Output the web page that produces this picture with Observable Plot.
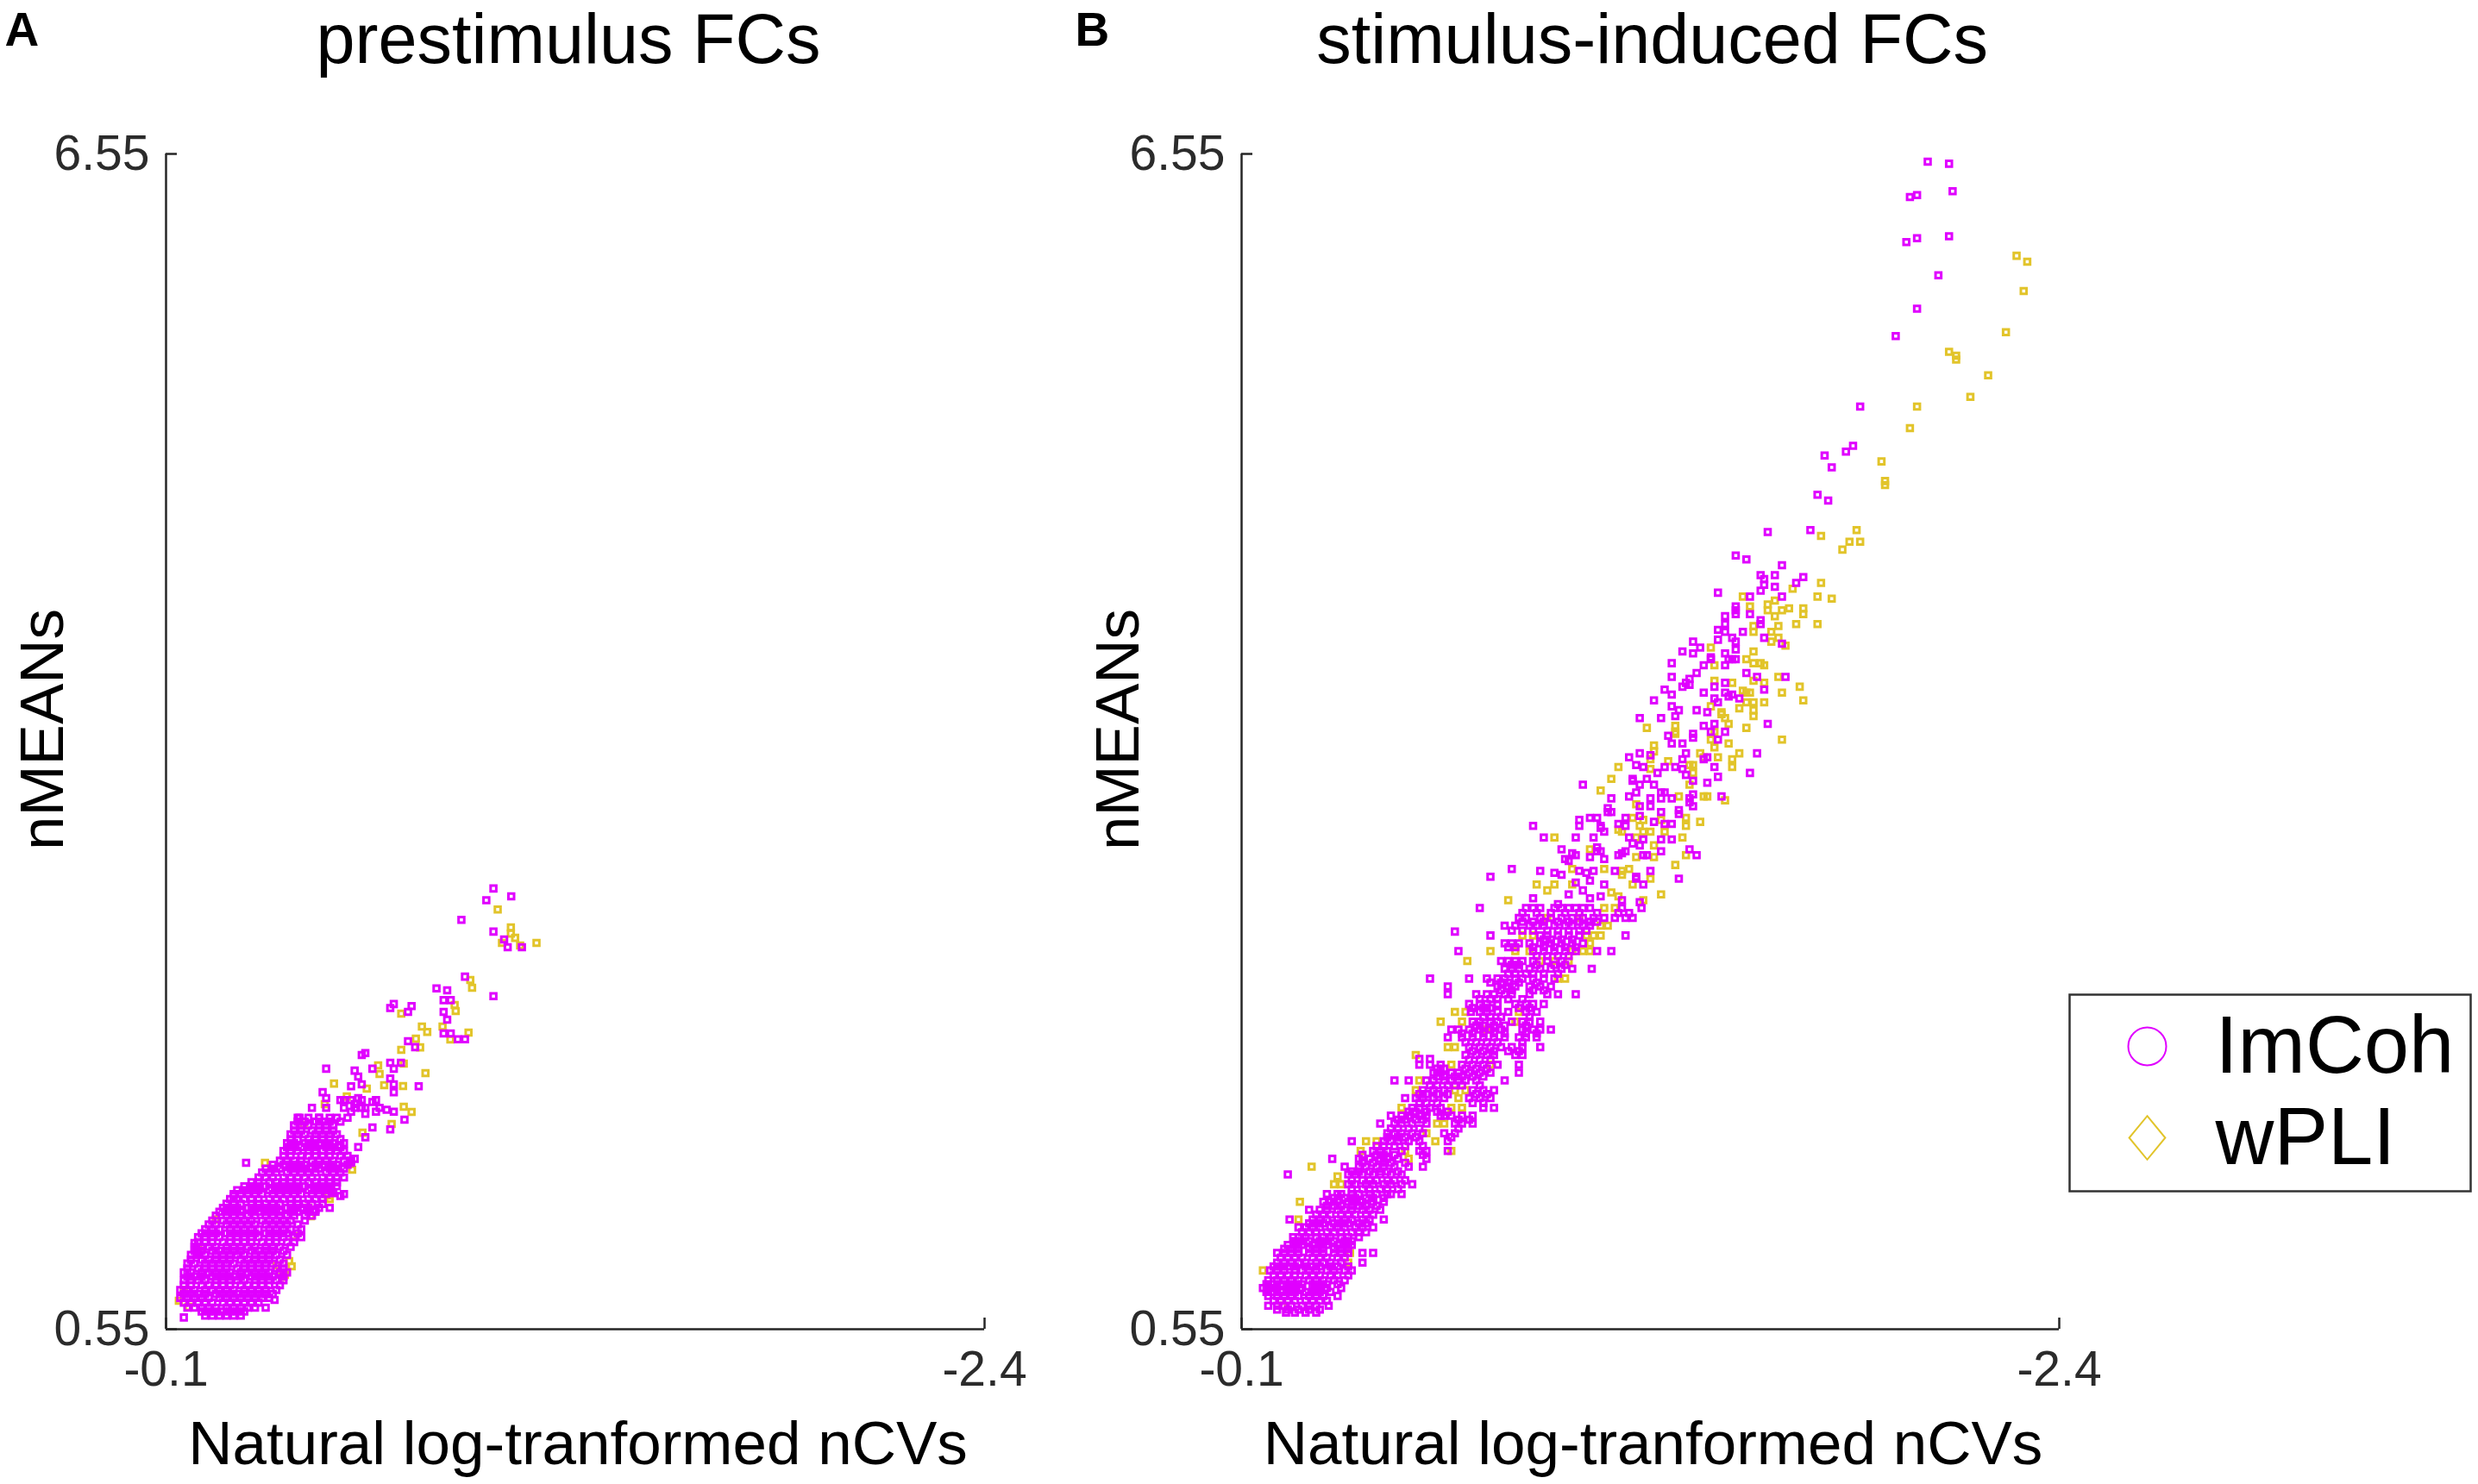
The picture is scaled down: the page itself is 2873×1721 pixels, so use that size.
<!DOCTYPE html>
<html><head><meta charset="utf-8">
<script src="https://cdn.jsdelivr.net/npm/d3@7"></script>
<script src="https://cdn.jsdelivr.net/npm/@observablehq/plot@0.6"></script>
<style>
html,body{margin:0;padding:0;background:#fff;}
#fig{position:relative;width:2873px;height:1721px;overflow:hidden;background:#fff;}
#fig svg{position:absolute;}
</style></head><body><div id="fig"></div>
<script>
// ---------- chart values ----------
const xTicks = [-0.1, -2.4];
const yTicks = [0.55, 6.55];
const seriesNames = ["ImCoh", "wPLI"];
const panelTitles = ["prestimulus FCs", "stimulus-induced FCs"];
const panelLetters = ["A", "B"];
const xLabel = "Natural log-tranformed nCVs";
const yLabel = "nMEANs";

// Panel A, ImCoh: dense core rows [y, x1, x2, ...]
const imcohA_rows = [
[0.62,-0.21,-0.23,-0.25,-0.27,-0.29,-0.31],
[0.64,-0.20,-0.22,-0.24,-0.26,-0.28,-0.30,-0.32],
[0.66,-0.16,-0.18,-0.20,-0.22,-0.24,-0.27,-0.29,-0.31,-0.33,-0.35],
[0.685,-0.15,-0.17,-0.19,-0.21,-0.23,-0.26,-0.28,-0.30,-0.32,-0.34,-0.36],
[0.71,-0.14,-0.16,-0.18,-0.20,-0.22,-0.25,-0.27,-0.29,-0.31,-0.33,-0.35,-0.37,-0.39],
[0.73,-0.15,-0.17,-0.19,-0.21,-0.24,-0.26,-0.28,-0.30,-0.32,-0.34,-0.36,-0.38,-0.40],
[0.75,-0.14,-0.16,-0.18,-0.21,-0.23,-0.25,-0.27,-0.29,-0.32,-0.34,-0.36,-0.38,-0.41],
[0.775,-0.15,-0.17,-0.20,-0.22,-0.24,-0.26,-0.28,-0.31,-0.33,-0.35,-0.37,-0.39,-0.42],
[0.80,-0.15,-0.17,-0.19,-0.21,-0.24,-0.26,-0.28,-0.30,-0.32,-0.35,-0.37,-0.39,-0.41,-0.43],
[0.82,-0.16,-0.18,-0.20,-0.23,-0.25,-0.27,-0.29,-0.31,-0.34,-0.36,-0.38,-0.40,-0.43],
[0.84,-0.15,-0.17,-0.20,-0.22,-0.24,-0.26,-0.28,-0.31,-0.33,-0.35,-0.37,-0.39,-0.42,-0.44],
[0.86,-0.16,-0.19,-0.21,-0.23,-0.25,-0.27,-0.30,-0.32,-0.34,-0.36,-0.38,-0.41,-0.43],
[0.885,-0.16,-0.18,-0.21,-0.23,-0.25,-0.27,-0.29,-0.32,-0.34,-0.36,-0.38,-0.40,-0.43],
[0.905,-0.17,-0.20,-0.22,-0.24,-0.26,-0.28,-0.31,-0.33,-0.35,-0.37,-0.39,-0.42],
[0.93,-0.17,-0.19,-0.21,-0.24,-0.26,-0.28,-0.30,-0.32,-0.35,-0.37,-0.39,-0.41,-0.44],
[0.95,-0.18,-0.20,-0.23,-0.25,-0.27,-0.29,-0.31,-0.34,-0.36,-0.38,-0.40,-0.43],
[0.97,-0.18,-0.20,-0.22,-0.24,-0.27,-0.29,-0.31,-0.33,-0.35,-0.38,-0.40,-0.42,-0.45],
[0.995,-0.19,-0.21,-0.23,-0.26,-0.28,-0.30,-0.32,-0.34,-0.37,-0.39,-0.41,-0.44,-0.46],
[1.02,-0.19,-0.21,-0.23,-0.25,-0.28,-0.30,-0.32,-0.34,-0.36,-0.39,-0.41,-0.43,-0.46,-0.48],
[1.04,-0.20,-0.22,-0.24,-0.27,-0.29,-0.31,-0.33,-0.35,-0.38,-0.40,-0.42,-0.44,-0.47],
[1.06,-0.21,-0.23,-0.25,-0.28,-0.30,-0.32,-0.34,-0.36,-0.39,-0.41,-0.43,-0.45,-0.48],
[1.085,-0.22,-0.24,-0.27,-0.29,-0.31,-0.33,-0.35,-0.38,-0.40,-0.42,-0.44,-0.47],
[1.105,-0.23,-0.26,-0.28,-0.30,-0.32,-0.34,-0.37,-0.39,-0.41,-0.43,-0.45,-0.49],
[1.13,-0.24,-0.27,-0.29,-0.31,-0.33,-0.35,-0.38,-0.40,-0.42,-0.44,-0.46,-0.49,-0.51],
[1.15,-0.25,-0.27,-0.29,-0.31,-0.34,-0.36,-0.38,-0.40,-0.42,-0.45,-0.47,-0.50,-0.52],
[1.17,-0.26,-0.28,-0.30,-0.33,-0.35,-0.37,-0.39,-0.41,-0.44,-0.46,-0.48,-0.50,-0.53],
[1.19,-0.27,-0.29,-0.31,-0.34,-0.36,-0.38,-0.40,-0.42,-0.45,-0.47,-0.49,-0.51,-0.54],
[1.215,-0.28,-0.30,-0.32,-0.34,-0.36,-0.39,-0.41,-0.43,-0.45,-0.47,-0.50,-0.52,-0.54],
[1.24,-0.29,-0.31,-0.33,-0.35,-0.37,-0.40,-0.42,-0.44,-0.46,-0.48,-0.51,-0.53,-0.55],
[1.26,-0.30,-0.32,-0.34,-0.36,-0.39,-0.41,-0.43,-0.45,-0.47,-0.50,-0.52,-0.54,-0.56],
[1.28,-0.32,-0.34,-0.36,-0.38,-0.41,-0.43,-0.45,-0.47,-0.49,-0.52,-0.54,-0.56,-0.58],
[1.30,-0.34,-0.36,-0.39,-0.41,-0.43,-0.45,-0.47,-0.50,-0.52,-0.54,-0.56,-0.58],
[1.325,-0.36,-0.38,-0.40,-0.43,-0.45,-0.47,-0.49,-0.51,-0.54,-0.56,-0.58,-0.60],
[1.35,-0.37,-0.39,-0.41,-0.44,-0.46,-0.48,-0.50,-0.52,-0.55,-0.57,-0.59],
[1.37,-0.38,-0.40,-0.42,-0.45,-0.47,-0.49,-0.51,-0.53,-0.56,-0.58,-0.60],
[1.39,-0.40,-0.43,-0.45,-0.47,-0.49,-0.52,-0.54,-0.56,-0.58,-0.61],
[1.41,-0.42,-0.44,-0.46,-0.48,-0.51,-0.53,-0.55,-0.57,-0.60,-0.62],
[1.435,-0.43,-0.45,-0.48,-0.50,-0.52,-0.54,-0.56,-0.59,-0.61],
[1.46,-0.43,-0.45,-0.47,-0.50,-0.52,-0.54,-0.56,-0.58,-0.60],
[1.48,-0.44,-0.46,-0.48,-0.50,-0.52,-0.55,-0.57,-0.59],
[1.50,-0.44,-0.46,-0.49,-0.51,-0.53,-0.55,-0.57,-0.60],
[1.52,-0.45,-0.47,-0.50,-0.52,-0.54,-0.56,-0.59],
[1.545,-0.45,-0.47,-0.49,-0.52,-0.54,-0.56,-0.58],
[1.565,-0.46,-0.48,-0.51,-0.53,-0.55,-0.57],
[1.59,-0.46,-0.48,-0.50,-0.53,-0.55,-0.57],
[1.61,-0.47,-0.49,-0.52,-0.54,-0.56,-0.59],
[1.63,-0.47,-0.50,-0.53,-0.56,-0.58,-0.61],
[1.68,-0.51,-0.55,-0.60,-0.63,-0.66,-0.70],
[1.72,-0.59,-0.62,-0.65,-0.69]
];
// Panel A, ImCoh: scattered points [x, y]
const imcohA_pts = [
[-1.02,2.80],[-1.00,2.74],[-1.07,2.76],[-0.93,2.64],[-1.02,2.58],[-1.05,2.54],[-1.06,2.50],[-1.10,2.50],
[-0.94,2.35],[-0.86,2.29],[-0.89,2.28],[-1.02,2.25],[-0.88,2.23],[-0.90,2.23],[-0.88,2.17],[-0.89,2.13],[-0.88,2.06],[-0.90,2.06],[-0.92,2.03],[-0.94,2.03],
[-0.74,2.21],[-0.73,2.19],[-0.79,2.20],[-0.78,2.17],[-0.78,2.02],[-0.80,1.99],[-0.65,1.95],[-0.66,1.96],[-0.55,1.88],[-0.73,1.91],[-0.76,1.91],[-0.68,1.88],[-0.63,1.87],[-0.64,1.84],[-0.74,1.88],[-0.73,1.83],[-0.74,1.80],[-0.81,1.79],[-0.62,1.79],[-0.65,1.80],[-0.74,1.76],[-0.54,1.76],[-0.55,1.73],[-0.77,1.62],[-0.72,1.67],[-0.74,1.66],[-0.73,1.57],[-0.68,1.58],[-0.66,1.53],[-0.475,1.63],[-0.46,1.59],[-0.53,1.63],[-0.325,1.40],[-0.29,1.23],[-0.59,1.23],[-0.565,1.25],[-0.64,1.48],[-0.63,1.42],[-0.62,1.40],
[-0.60,1.72],[-0.63,1.70],[-0.65,1.68],[-0.68,1.71],[-0.62,1.66],[-0.64,1.73],[-0.66,1.65],[-0.69,1.66],
[-0.15,0.61],[-0.38,0.66],[-0.405,0.70],[-0.18,0.99],[-0.187,0.94],[-0.52,1.16],[-0.56,1.17],[-0.57,1.245],[-0.60,1.24]
];
// Panel A, wPLI points [x, y]
const wpliA_pts = [
[-0.136,0.695],[-0.163,0.664],[-0.15,0.75],[-0.19,0.96],[-0.24,1.11],[-0.434,0.827],[-0.446,0.898],[-0.453,0.871],[-0.41,0.876],[-0.427,0.818],[-0.458,1.025],[-0.50,1.171],[-0.507,1.127],[-0.56,1.215],[-0.555,1.232],
[-0.378,1.399],[-0.487,1.593],[-0.546,1.699],[-0.572,1.804],[-0.608,1.738],[-0.623,1.364],[-0.652,1.553],[-0.696,1.897],[-0.734,1.598],[-0.761,2.161],[-0.761,1.976],[-0.766,1.791],[-0.768,1.906],[-0.768,1.686],[-0.79,1.659],[-0.802,2.033],[-0.814,1.989],[-0.819,2.095],[-0.829,1.857],[-0.834,2.068],[-0.877,2.095],[-0.899,2.029],[-0.911,2.205],[-0.914,2.174],[-0.95,2.064],[-0.955,2.333],[-0.96,2.293],[-1.032,2.693],[-1.044,2.522],[-1.069,2.601],[-1.069,2.570],[-1.081,2.548],[-1.095,2.509],[-1.141,2.522],[-0.70,1.853],[-0.713,1.796],[-0.664,1.778]
];

// Panel B, ImCoh: dense band rows [y, x1, x2, ...]
const imcohB_rows = [
[2.70,-0.90,-0.92,-0.94,-0.98,-1.00,-1.02,-1.04,-1.06,-1.08,-1.17,-1.225],
[2.675,-0.89,-0.93,-0.97,-1.01,-1.05,-1.10,-1.16,-1.19],
[2.65,-0.88,-0.90,-0.94,-0.97,-1.00,-1.03,-1.06,-1.09,-1.12,-1.15,-1.18,-1.20],
[2.63,-0.89,-0.92,-0.95,-0.99,-1.02,-1.05,-1.08,-1.10],
[2.61,-0.84,-0.87,-0.91,-0.93,-0.95,-0.98,-1.01,-1.03,-1.06,-1.08],
[2.585,-0.86,-0.89,-0.92,-0.96,-0.99,-1.02,-1.05,-1.07],
[2.56,-0.80,-0.94,-0.96,-0.99,-1.02,-1.05,-1.18],
[2.54,-0.95,-0.97,-1.00,-1.03],
[2.52,-0.84,-0.86,-0.88,-0.91,-0.94,-0.97,-1.00,-1.03,-1.06],
[2.50,-0.85,-0.87,-0.92,-0.95,-0.98,-1.01,-1.04],
[2.48,-0.71,-0.92,-0.95,-0.98,-1.01,-1.04,-1.10,-1.14],
[2.455,-0.93,-0.96,-0.99,-1.02],
[2.43,-0.83,-0.85,-0.87,-0.89,-0.92,-0.96,-1.00],
[2.41,-0.86,-0.88,-0.93,-0.98,-1.01],
[2.39,-0.84,-0.86,-0.88,-0.91,-0.94,-0.97,-1.00,-1.03,-1.085],
[2.365,-0.85,-0.87,-0.90,-0.92,-0.95,-0.99],
[2.34,-0.63,-0.74,-0.79,-0.82,-0.84,-0.87,-0.89,-0.92,-0.95,-0.98],
[2.32,-0.80,-0.83,-0.85,-0.88,-0.93],
[2.30,-0.68,-0.82,-0.85,-0.87,-0.91,-0.94,-0.97],
[2.28,-0.83,-0.86,-0.92,-0.95],
[2.26,-0.68,-0.76,-0.79,-0.81,-0.84,-0.86,-0.91,-0.96,-0.99,-1.04],
[2.235,-0.77,-0.80,-0.82,-0.85,-0.89],
[2.21,-0.74,-0.77,-0.79,-0.82,-0.87,-0.90,-0.92,-0.95],
[2.19,-0.75,-0.78,-0.80,-0.88,-0.91],
[2.17,-0.745,-0.77,-0.79,-0.82,-0.85,-0.90,-0.93],
[2.145,-0.78,-0.80,-0.83,-0.91],
[2.12,-0.75,-0.77,-0.80,-0.82,-0.86,-0.89,-0.91,-0.94],
[2.10,-0.76,-0.78,-0.81,-0.84,-0.90],
[2.08,-0.69,-0.71,-0.74,-0.77,-0.80,-0.83,-0.89,-0.92,-0.94,-0.97],
[2.06,-0.72,-0.75,-0.78,-0.81,-0.84,-0.90,-0.93],
[2.04,-0.68,-0.72,-0.75,-0.78,-0.81,-0.84,-0.88,-0.90,-0.93],
[2.015,-0.73,-0.76,-0.79,-0.82,-0.89],
[1.99,-0.74,-0.77,-0.80,-0.83,-0.86,-0.89,-0.94],
[1.97,-0.75,-0.78,-0.81,-0.85,-0.88],
[1.95,-0.73,-0.76,-0.79,-0.81,-0.87,-0.89],
[1.93,-0.60,-0.63],
[1.925,-0.74,-0.77,-0.80],
[1.90,-0.60,-0.63,-0.66,-0.72,-0.75,-0.78,-0.82,-0.88],
[1.88,-0.65,-0.67,-0.73,-0.76,-0.79],
[1.86,-0.64,-0.66,-0.69,-0.71,-0.74,-0.77,-0.80,-0.88],
[1.84,-0.65,-0.67,-0.70,-0.72,-0.75,-0.78],
[1.82,-0.53,-0.57,-0.62,-0.64,-0.67,-0.69,-0.71,-0.73,-0.76,-0.84],
[1.795,-0.63,-0.65,-0.68,-0.70,-0.72,-0.77],
[1.77,-0.61,-0.64,-0.67,-0.75,-0.78,-0.81],
[1.75,-0.60,-0.62,-0.65,-0.68,-0.76,-0.79],
[1.73,-0.56,-0.59,-0.61,-0.64,-0.67,-0.74,-0.77,-0.80],
[1.705,-0.60,-0.62,-0.65,-0.75,-0.78],
[1.68,-0.58,-0.60,-0.63,-0.66,-0.78,-0.81],
[1.66,-0.57,-0.59,-0.62,-0.65,-0.68],
[1.64,-0.52,-0.55,-0.57,-0.60,-0.62,-0.66,-0.67,-0.69,-0.72,-0.75],
[1.62,-0.54,-0.56,-0.59,-0.61,-0.71,-0.74],
[1.60,-0.49,-0.53,-0.55,-0.58,-0.62,-0.70,-0.72,-0.75],
[1.575,-0.52,-0.54,-0.57,-0.60,-0.71],
[1.55,-0.51,-0.53,-0.55,-0.58,-0.61,-0.67,-0.70],
[1.53,-0.51,-0.54,-0.56,-0.59,-0.69],
[1.51,-0.41,-0.50,-0.52,-0.54,-0.57,-0.60,-0.68],
[1.485,-0.48,-0.50,-0.53,-0.56,-0.61],
[1.46,-0.47,-0.49,-0.51,-0.55,-0.60,-0.62,-0.68],
[1.44,-0.44,-0.48,-0.50,-0.53,-0.61],
[1.42,-0.355,-0.43,-0.46,-0.49,-0.51,-0.54,-0.62],
[1.40,-0.44,-0.47,-0.50,-0.52,-0.56],
[1.38,-0.39,-0.43,-0.45,-0.48,-0.50,-0.53,-0.57,-0.61],
[1.355,-0.41,-0.43,-0.46,-0.49,-0.51,-0.54],
[1.34,-0.23,-0.40,-0.42,-0.44,-0.47,-0.49,-0.52,-0.55],
[1.31,-0.41,-0.44,-0.46,-0.48,-0.51,-0.53,-0.56],
[1.29,-0.40,-0.42,-0.45,-0.47,-0.50,-0.52,-0.55,-0.58],
[1.265,-0.41,-0.44,-0.46,-0.49,-0.51,-0.54],
[1.24,-0.34,-0.37,-0.38,-0.41,-0.43,-0.46,-0.48,-0.51,-0.52,-0.55],
[1.22,-0.36,-0.39,-0.41,-0.42,-0.45,-0.47,-0.50],
[1.20,-0.33,-0.35,-0.37,-0.40,-0.42,-0.44,-0.47,-0.50],
[1.18,-0.34,-0.36,-0.38,-0.41,-0.43,-0.45,-0.48],
[1.16,-0.29,-0.32,-0.34,-0.37,-0.39,-0.41,-0.44,-0.46,-0.49],
[1.135,-0.31,-0.33,-0.35,-0.38,-0.40,-0.42,-0.45,-0.47],
[1.11,-0.235,-0.30,-0.32,-0.34,-0.37,-0.39,-0.41,-0.44,-0.46,-0.50],
[1.09,-0.29,-0.31,-0.33,-0.36,-0.38,-0.40,-0.43,-0.45],
[1.07,-0.26,-0.28,-0.30,-0.32,-0.35,-0.37,-0.39,-0.42,-0.44,-0.47],
[1.045,-0.27,-0.29,-0.31,-0.34,-0.36,-0.38,-0.41,-0.43,-0.45],
[1.02,-0.245,-0.26,-0.28,-0.31,-0.33,-0.35,-0.38,-0.40,-0.43],
[1.00,-0.25,-0.27,-0.29,-0.32,-0.34,-0.36,-0.39,-0.41],
[0.98,-0.23,-0.25,-0.27,-0.30,-0.32,-0.34,-0.37,-0.39,-0.41],
[0.96,-0.22,-0.24,-0.26,-0.29,-0.31,-0.33,-0.36,-0.38,-0.40],
[0.94,-0.20,-0.22,-0.24,-0.26,-0.29,-0.31,-0.33,-0.36,-0.38,-0.40,-0.44,-0.47],
[0.915,-0.21,-0.23,-0.25,-0.27,-0.30,-0.32,-0.34,-0.37,-0.39],
[0.89,-0.20,-0.22,-0.24,-0.26,-0.28,-0.31,-0.33,-0.35,-0.38,-0.44],
[0.87,-0.19,-0.21,-0.23,-0.25,-0.28,-0.30,-0.32,-0.35,-0.37,-0.40],
[0.85,-0.18,-0.20,-0.22,-0.25,-0.27,-0.29,-0.31,-0.34,-0.36,-0.39,-0.41],
[0.825,-0.19,-0.21,-0.23,-0.25,-0.28,-0.30,-0.32,-0.35,-0.37,-0.40],
[0.80,-0.175,-0.20,-0.22,-0.24,-0.26,-0.29,-0.31,-0.33,-0.36,-0.39],
[0.78,-0.17,-0.19,-0.21,-0.23,-0.25,-0.27,-0.30,-0.32,-0.34,-0.37],
[0.76,-0.16,-0.18,-0.20,-0.23,-0.25,-0.27,-0.30,-0.32,-0.34,-0.38],
[0.74,-0.17,-0.19,-0.21,-0.23,-0.25,-0.28,-0.30,-0.32,-0.35],
[0.72,-0.175,-0.20,-0.22,-0.24,-0.26,-0.29,-0.31,-0.33,-0.37],
[0.695,-0.19,-0.21,-0.23,-0.25,-0.28,-0.30,-0.32,-0.34],
[0.67,-0.175,-0.20,-0.22,-0.24,-0.27,-0.29,-0.31,-0.345],
[0.65,-0.20,-0.23,-0.26,-0.29,-0.32],
[0.635,-0.225,-0.25,-0.28,-0.31]
];
// Panel B, ImCoh: scattered points [x, y]
const imcohB_pts = [
[-2.03,6.51],[-2.09,6.50],[-1.98,6.33],[-2.00,6.34],[-2.10,6.36],[-1.97,6.10],[-2.00,6.12],[-2.09,6.13],[-2.06,5.93],[-2.00,5.76],[-1.94,5.62],[-1.84,5.26],[-1.82,5.06],[-1.80,5.03],[-1.74,5.01],[-1.76,4.95],[-1.72,4.81],[-1.75,4.78],[-1.58,4.62],[-1.70,4.63],
[-1.49,4.50],[-1.52,4.48],[-1.62,4.45],[-1.56,4.40],[-1.57,4.38],[-1.57,4.35],[-1.60,4.40],[-1.60,4.34],[-1.56,4.32],[-1.68,4.39],[-1.66,4.36],[-1.44,4.31],[-1.53,4.29],[-1.62,4.29],[-1.49,4.24],[-1.49,4.22],[-1.49,4.20],[-1.53,4.20],[-1.46,4.19],[-1.46,4.15],[-1.56,4.17],[-1.56,4.15],
[-1.44,4.12],[-1.46,4.11],[-1.51,4.11],[-1.57,4.08],[-1.62,4.05],[-1.44,4.07],[-1.48,4.08],[-1.49,4.06],[-1.37,4.06],[-1.39,4.03],[-1.37,4.00],[-1.34,4.01],[-1.46,4.00],[-1.49,4.02],[-1.49,3.97],[-1.48,3.97],[-1.47,3.97],[-1.42,3.98],[-1.42,3.97],[-1.40,3.94],[-1.46,3.94],[-1.31,3.95],
[-1.31,3.88],[-1.38,3.90],[-1.36,3.87],[-1.35,3.85],[-1.36,3.84],[-1.34,3.83],[-1.46,3.85],[-1.43,3.83],[-1.52,3.90],[-1.55,3.88],[-1.63,3.88],[-1.57,3.815],[-1.40,3.80],[-1.46,3.80],[-1.48,3.79],[-1.47,3.78],[-1.50,3.77],[-1.29,3.815],[-1.31,3.79],[-1.26,3.76],[-1.31,3.73],[-1.33,3.71],[-1.38,3.71],[-1.43,3.77],[-1.44,3.75],[-1.41,3.70],[-1.32,3.68],[-1.28,3.67],[-1.22,3.67],[-1.43,3.64],[-1.40,3.63],[-1.42,3.60],[-1.37,3.59],[-1.37,3.57],[-1.46,3.60],[-1.58,3.64],
[-1.30,3.58],[-1.31,3.54],[-1.34,3.54],[-1.44,3.56],[-1.41,3.47],[-1.35,3.49],[-1.34,3.46],[-1.40,3.46],[-1.43,3.42],[-1.55,3.49],[-1.53,3.39],[-1.19,3.47],[-1.22,3.49],[-1.25,3.48],[-1.21,3.43],[-1.23,3.42],[-1.29,3.42],[-1.32,3.42],[-1.34,3.41],[-1.35,3.38],[-1.37,3.35],[-1.44,3.37],[-1.41,3.34],[-1.20,3.36],[-1.20,3.35],[-1.22,3.33],[-1.24,3.36],[-1.26,3.33],[-1.27,3.39],
[-1.06,3.33],[-1.14,3.26],[-1.13,3.21],[-1.13,3.19],[-1.14,3.19],[-1.19,3.27],[-1.21,3.29],[-1.22,3.22],[-1.25,3.26],[-1.25,3.22],[-1.28,3.29],[-1.29,3.29],[-1.28,3.26],[-1.31,3.26],[-1.36,3.26],[-1.37,3.28],[-1.36,3.24],[-1.37,3.22],[-1.45,3.27],[-1.33,3.20],[-1.33,3.18],[-1.28,3.19],[-1.26,3.14],[-1.29,3.13],[-1.31,3.13],[-1.22,3.17],[-1.18,3.16],[-1.16,3.13],[-1.11,3.12],[-1.11,3.11],[-1.08,3.16],[-1.10,3.16],[-1.05,3.15],[-1.05,3.12],[-0.92,3.12],[-0.95,3.06],[-1.04,3.06],[-1.09,3.06],[-1.12,3.09],[-1.18,3.12],[-1.19,3.06],[-1.23,3.05],[-1.28,3.05],[-1.31,3.05],[-1.36,3.00],[-1.38,2.97],
[-1.00,3.00],[-1.01,2.95],[-1.03,2.98],[-1.04,2.97],[-1.02,2.94],[-1.10,3.01],[-1.10,2.99],[-1.11,2.99],[-1.08,2.96],[-1.12,2.95],[-1.16,2.97],[-1.17,2.98],[-1.18,2.99],[-1.20,3.03],[-1.22,3.02],[-1.23,2.97],[-1.24,2.97],[-1.28,2.99],[-1.33,2.85],[-0.80,2.86],[-0.86,2.90],[-0.94,2.89],[-0.98,2.88],[-1.00,2.87],[-1.05,2.89],[-1.07,2.88],[-1.09,2.89],[-1.08,2.84],[-1.15,2.89],[-1.21,2.86],[-1.21,2.85],[-1.23,2.82],[-1.25,2.89],[-1.04,2.83],[-1.02,2.77],[-1.06,2.79],[-1.08,2.75],[-1.12,2.82],[-1.11,2.76],[-1.17,2.74],[-1.22,2.73],[-0.92,2.75],[-0.99,2.72],
[-0.70,2.58],[-0.77,2.70]
];
// Panel B, wPLI: rows [y, x1, ...] inside the band
const wpliB_rows = [
[2.70,-1.12,-1.15],[2.65,-0.96,-1.05],[2.61,-1.11,-1.13],[2.56,-0.89,-0.92,-1.07,-1.09,-1.11],[2.52,-1.08],
[2.48,-0.80,-0.87,-0.91,-1.03,-1.06,-1.08],[2.43,-0.735,-0.94,-0.98,-1.02],[2.34,-0.99,-1.01],[2.17,-0.70,-0.73,-0.88],
[2.12,-0.66,-0.72,-0.87],[2.08,-0.79],[1.99,-0.68,-0.70],[1.95,-0.59],[1.90,-0.69,-0.80],[1.82,-0.60],[1.77,-0.59,-0.70,-0.73],
[1.73,-0.71],[1.68,-0.55,-0.69,-0.72],[1.60,-0.65,-0.67],[1.55,-0.62],[1.51,-0.45,-0.48,-0.645],[1.46,-0.435,-0.56,-0.69],
[1.42,-0.57],[1.38,-0.297],[1.33,-0.37],[1.29,-0.36,-0.38],[1.20,-0.264],[1.11,-0.26],[0.94,-0.405],[0.89,-0.40],[0.85,-0.16],[0.67,-0.215]
];
// Panel B, wPLI: scattered points [x, y]
const wpliB_pts = [
[-2.28,6.03],[-2.31,6.00],[-2.30,5.85],[-2.25,5.64],[-2.09,5.54],[-2.11,5.52],[-2.11,5.50],[-2.20,5.42],[-2.15,5.31],[-2.00,5.26],[-1.98,5.15],[-1.90,4.98],[-1.91,4.88],[-1.91,4.86],[-1.83,4.63],[-1.73,4.60],[-1.81,4.57],[-1.84,4.57],[-1.79,4.53],
[-1.65,4.33],[-1.51,4.29],[-1.73,4.36],[-1.72,4.29],[-1.76,4.28],[-1.58,4.25],[-1.60,4.27],[-1.53,4.24],[-1.58,4.22],[-1.60,4.19],[-1.62,4.22],[-1.64,4.23],[-1.68,4.23],[-1.68,4.20],[-1.66,4.15],[-1.72,4.15],
[-1.54,4.14],[-1.54,4.11],[-1.59,4.11],[-1.61,4.14],[-1.61,4.08],[-1.59,4.06],[-1.63,4.04],[-1.42,4.03],[-1.43,3.94],[-1.54,4.01],[-1.52,3.97],[-1.54,3.95],[-1.56,3.95],[-1.57,3.94],
[-1.48,3.85],[-1.43,3.86],[-1.54,3.86],[-1.61,3.88],[-1.57,3.85],[-1.67,3.83],[-1.62,3.80],[-1.68,3.76],[-1.51,3.81],[-1.52,3.80],[-1.53,3.80],[-1.52,3.75],[-1.54,3.75],[-1.57,3.75],[-1.54,3.71],[-1.54,3.68],[-1.42,3.73],[-1.45,3.70],[-1.45,3.69],[-1.46,3.67],[-1.47,3.64],[-1.50,3.72],[-1.24,3.62],[-1.32,3.63],[-1.32,3.60],[-1.32,3.59],[-1.43,3.60],[-1.52,3.62],[-1.62,3.56],
[-1.26,3.53],[-1.26,3.50],[-1.42,3.56],[-1.43,3.52],[-1.47,3.54],[-1.39,3.49],[-1.40,3.47],[-1.37,3.43],[-1.44,3.47],[-1.48,3.46],[-1.50,3.49],[-1.48,3.42],[-1.25,3.46],[-1.25,3.41],[-1.30,3.45],[-1.36,3.43],[-1.37,3.39],[-1.36,3.33],[-1.16,3.42],[-1.14,3.36],
[-1.11,3.30],[-1.21,3.23],[-1.33,3.27],[-1.41,3.27],[-1.40,3.27],[-1.46,3.25],[-1.28,3.15],[-1.35,3.16],[-1.35,3.12],[-1.39,3.14],[-1.23,3.15],[-1.22,3.12],[-1.20,3.16],[-0.98,3.06],[-1.16,3.10],[-1.17,3.09],[-1.23,3.09],[-1.25,3.09],[-1.21,3.06],[-1.29,3.09],[-1.34,3.06],[-1.35,2.97],
[-1.08,3.00],[-1.21,2.96],[-1.26,2.96],[-1.26,3.02],[-1.32,2.92],[-1.03,2.90],[-1.12,2.90],[-1.17,2.89],[-1.17,2.87],[-1.19,2.90],[-1.20,2.82],[-1.25,2.85],[-1.28,2.77],[-0.93,2.82],[-0.96,2.79],[-0.98,2.82],[-1.03,2.82],[-1.14,2.78],[-1.16,2.76],[-1.23,2.74],[-0.85,2.74]
];

// ---------- drawing ----------
const FONT = '"Liberation Sans", Arial, Helvetica, sans-serif';
const MAGENTA = "#E000FF", YELLOW = "#E2C42A", AXIS = "#262626", TICKTEXT = "#2b2b2b";

function rowsToPoints(rows) {
  const out = [];
  for (const [y, ...xs] of rows) for (const x of xs) out.push([x, y]);
  return out;
}

const DIAMOND = {
  draw(context, size) {
    const r = Math.sqrt(size / Math.PI), w = r * 0.95, h = r * 1.15;
    context.moveTo(0, -h); context.lineTo(w, 0); context.lineTo(0, h); context.lineTo(-w, 0); context.closePath();
  }
};

const fig = document.getElementById("fig");

function panel({left, width, marginLeft, marginRight, title, titleDx, letter, letterDx, imcoh, wpli}) {
  const H = 1721, mt = 178, mb = 180;
  const frameW = width - marginLeft - marginRight, frameH = H - mt - mb;
  const dotOpts = {x: d => d[0], y: d => d[1], symbol: "square", r: 3.7, strokeWidth: 3, fill: "none"};
  const svg = Plot.plot({
    width, height: H, marginLeft, marginRight, marginTop: mt, marginBottom: mb,
    x: {domain: [xTicks[0], xTicks[1]]},
    y: {domain: [yTicks[0], yTicks[1]]},
    style: {fontFamily: FONT, background: "transparent", color: "#000", overflow: "visible"},
    marks: [
      Plot.dot(wpli, {...dotOpts, stroke: YELLOW}),
      Plot.dot(imcoh, {...dotOpts, stroke: MAGENTA}),
      Plot.ruleX([xTicks[0]], {stroke: AXIS, strokeWidth: 2.5}),
      Plot.ruleY([yTicks[0]], {stroke: AXIS, strokeWidth: 2.5}),
      Plot.tickX(xTicks, {x: d => d, insetTop: frameH - 13, stroke: AXIS, strokeWidth: 2.5}),
      Plot.tickY(yTicks, {y: d => d, insetRight: frameW - 13, stroke: AXIS, strokeWidth: 2.5}),
      Plot.axisX(xTicks, {tickSize: 0, tickPadding: 25, tickFormat: d => String(d), fontSize: 57, fill: TICKTEXT, label: null}),
      Plot.axisY(yTicks, {tickSize: 0, tickPadding: 19, tickFormat: d => d.toFixed(2), fontSize: 57, fill: TICKTEXT, label: null}),
      Plot.text([title], {frameAnchor: "top", dy: -106, dx: titleDx, textAnchor: "middle", lineAnchor: "bottom", fontSize: 81, fill: "#000"}),
      Plot.text([xLabel], {frameAnchor: "bottom", dy: 156, dx: 3, textAnchor: "middle", lineAnchor: "bottom", fontSize: 71, fill: "#000"}),
      Plot.text([yLabel], {frameAnchor: "left", dx: -120, dy: -14, rotate: -90, textAnchor: "middle", lineAnchor: "bottom", fontSize: 71, fill: "#000"}),
      Plot.text([letter], {frameAnchor: "top-left", dx: letterDx, dy: -126, textAnchor: "start", lineAnchor: "bottom", fontSize: 55, fontWeight: "bold", fill: "#000"})
    ]
  });
  svg.style.left = left + "px";
  svg.style.top = "0px";
  fig.appendChild(svg);
}

panel({left: 0, width: 1240, marginLeft: 192, marginRight: 99, title: panelTitles[0], titleDx: -8,
  letter: panelLetters[0], letterDx: -187,
  imcoh: rowsToPoints(imcohA_rows).concat(imcohA_pts), wpli: wpliA_pts});

panel({left: 1240, width: 1633, marginLeft: 199, marginRight: 486, title: panelTitles[1], titleDx: 2,
  letter: panelLetters[1], letterDx: -193,
  imcoh: rowsToPoints(imcohB_rows).concat(imcohB_pts), wpli: rowsToPoints(wpliB_rows).concat(wpliB_pts)});

// legend
const legend = Plot.plot({
  width: 471, height: 234, margin: 0,
  y: {type: "point", domain: seriesNames, range: [63, 169], padding: 0, axis: null},
  style: {fontFamily: FONT, background: "white", color: "#000", overflow: "visible"},
  marks: [
    Plot.frame({stroke: "#333", strokeWidth: 2.5, inset: 3}),
    Plot.dot([seriesNames[0]], {y: d => d, frameAnchor: "left", dx: 93, symbol: "circle", r: 22, stroke: MAGENTA, strokeWidth: 2, fill: "none"}),
    Plot.dot([seriesNames[1]], {y: d => d, frameAnchor: "left", dx: 93, symbol: DIAMOND, r: 22, stroke: YELLOW, strokeWidth: 2, fill: "none"}),
    Plot.text(seriesNames, {y: d => d, frameAnchor: "left", dx: 172, textAnchor: "start", lineAnchor: "middle", fontSize: 94, fill: "#000"})
  ]
});
legend.style.left = "2396px";
legend.style.top = "1150px";
fig.appendChild(legend);
</script>
</body></html>
